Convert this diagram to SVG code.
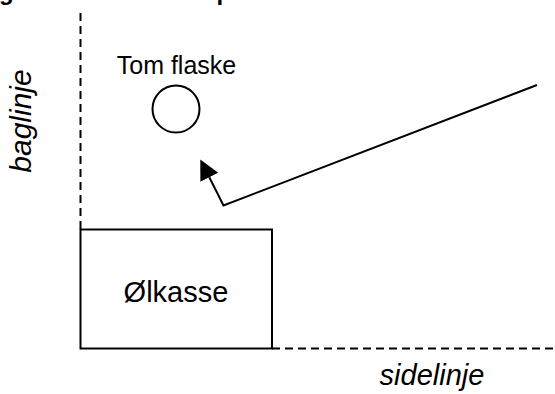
<svg xmlns="http://www.w3.org/2000/svg" width="555" height="394" viewBox="0 0 555 394">
  <defs>
    <style>
      .line { fill: none; stroke: #000; stroke-width: 2; }
      .dash { fill: none; stroke: #000; stroke-width: 2; stroke-dasharray: 8 5; }
      .lbl { font-family: "Liberation Sans", Arial, sans-serif; fill: #000; }
      .it { font-style: italic; }
      .head { font-family: "Liberation Sans", Arial, sans-serif; font-weight: bold; font-size: 24px; fill: #000; }
    </style>
    <marker id="arrow" markerUnits="userSpaceOnUse" markerWidth="21" markerHeight="21" refX="0" refY="10" orient="auto" viewBox="0 0 21 21">
      <path d="M0,0 L20,10 L0,20 z" fill="#000"/>
    </marker>
  </defs>
  <rect width="555" height="394" fill="#fff"/>
  <g id="heading">
    <text class="head" x="-1" y="0.3">g</text>
    <text class="head" x="216.5" y="0.3">p</text>
  </g>
  <g id="baglinje-line">
    <line class="dash" x1="80.5" y1="13" x2="80.5" y2="229"/>
    <text class="lbl it" font-size="30" transform="translate(31,121) rotate(-90)" text-anchor="middle">baglinje</text>
  </g>
  <g id="sidelinje-line">
    <line class="dash" x1="272" y1="348.5" x2="555" y2="348.5" stroke-dasharray="7 5"/>
    <text class="lbl it" font-size="29" x="432" y="385" text-anchor="middle">sidelinje</text>
  </g>
  <g id="olkasse">
    <rect class="line" x="80.5" y="229.5" width="191.5" height="119"/>
    <text class="lbl" font-size="29" x="176" y="302" text-anchor="middle">Ølkasse</text>
  </g>
  <g id="tom-flaske">
    <circle class="line" cx="176" cy="109" r="23.5" stroke-width="1.8"/>
    <text class="lbl" font-size="25" x="176.5" y="74" text-anchor="middle">Tom flaske</text>
  </g>
  <g id="connectors">
    <polyline class="line" points="537,85 223.5,205.5 209.3,177.3" marker-end="url(#arrow)"/>
  </g>
</svg>
